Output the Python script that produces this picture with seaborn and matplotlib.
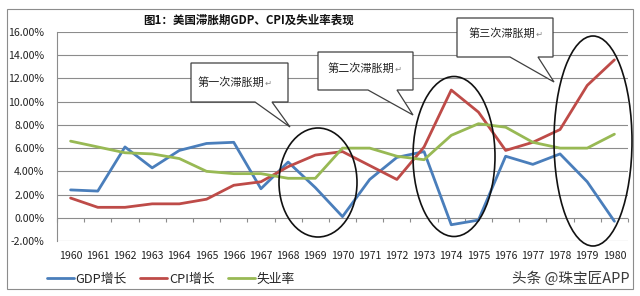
import numpy as np
import pandas as pd
import seaborn as sns
import matplotlib
matplotlib.use("Agg")
import matplotlib.pyplot as plt
from matplotlib.patches import Ellipse, Polygon, Rectangle
from matplotlib.lines import Line2D
from matplotlib.transforms import Affine2D
from matplotlib.ticker import FuncFormatter, FixedLocator

# ---------------- data ----------------
years = ["1960", "1961", "1962", "1963", "1964", "1965", "1966", "1967", "1968", "1969", "1970",
         "1971", "1972", "1973", "1974", "1975", "1976", "1977", "1978", "1979", "1980"]
gdp = [2.4, 2.3, 6.1, 4.3, 5.8, 6.4, 6.5, 2.5, 4.8, 2.6, 0.1,
       3.3, 5.2, 5.7, -0.6, -0.2, 5.3, 4.6, 5.5, 3.1, -0.3]
cpi = [1.7, 0.9, 0.9, 1.2, 1.2, 1.6, 2.8, 3.1, 4.4, 5.4, 5.7,
       4.5, 3.3, 6.1, 11.0, 9.1, 5.8, 6.5, 7.6, 11.4, 13.6]
unemp = [6.6, 6.1, 5.6, 5.5, 5.1, 4.0, 3.8, 3.8, 3.4, 3.4, 6.0,
         6.0, 5.3, 5.0, 7.1, 8.1, 7.8, 6.5, 6.0, 6.0, 7.2]
series_names = ["GDP增长", "CPI增长", "失业率"]
colors = ["#4A7EBB", "#BE4B48", "#98B954"]
yticks = [-2, 0, 2, 4, 6, 8, 10, 12, 14, 16]
title = "图1：美国滞胀期GDP、CPI及失业率表现"
callout_texts = ["第一次滞胀期", "第二次滞胀期", "第三次滞胀期"]
para_mark = "↵"
watermark = "头条 @珠宝匠APP"

df = pd.DataFrame({
    "idx": list(range(len(years))) * 3,
    "value": gdp + cpi + unemp,
    "series": [series_names[0]] * len(years) + [series_names[1]] * len(years) + [series_names[2]] * len(years),
})

# ---------------- style ----------------
sns.set_theme(style="white")
plt.rcParams["font.family"] = ["Noto Sans CJK SC", "DejaVu Sans"]
plt.rcParams["axes.unicode_minus"] = False

fig = plt.figure(figsize=(6.4, 2.96), dpi=100)
fig.patch.set_facecolor("white")
W, H = 640, 296
px = Affine2D().scale(1 / W, -1 / H).translate(0, 1) + fig.transFigure

ax = fig.add_axes([57 / W, 55 / H, 571 / W, 209 / H])
ax.set_facecolor("white")

sns.lineplot(data=df, x="idx", y="value", hue="series", hue_order=series_names,
             palette=colors, linewidth=2.0, sort=False, errorbar=None,
             legend=False, ax=ax, zorder=3)

ax.set_xlim(-0.5, len(years) - 0.5)
ax.set_ylim(-2, 16)
ax.set_xlabel("")
ax.set_ylabel("")

ax.xaxis.set_major_locator(FixedLocator(list(range(len(years)))))
ax.set_xticklabels(years)
ax.yaxis.set_major_locator(FixedLocator(yticks))
ax.yaxis.set_major_formatter(FuncFormatter(lambda v, p: f"{v:.2f}%"))

grid_col = "#8C8C8C"
ax.yaxis.grid(True, color=grid_col, linewidth=0.8)
ax.xaxis.grid(False)
for s in ["top", "right", "bottom"]:
    ax.spines[s].set_visible(False)
ax.spines["left"].set_color(grid_col)
ax.spines["left"].set_linewidth(0.8)

ax.tick_params(axis="x", length=0, pad=7, labelsize=7.6, colors="#222222")
ax.tick_params(axis="y", length=3, width=0.8, color=grid_col, pad=6,
               labelsize=7.6, labelcolor="#222222", direction="out")

# category tick marks on horizontal axis (crossing at 0)
ax.vlines(np.arange(len(years) + 1) - 0.5, -0.35, 0, color=grid_col, linewidth=0.8,
          zorder=2, clip_on=False)

# ---------------- decorations ----------------
fig.add_artist(Rectangle((7, 9), 626, 280, transform=px, fill=False,
                         edgecolor="#8C8C8C", linewidth=0.8, zorder=0))

fig.text(249, 20, title, transform=px, ha="center", va="center",
         fontsize=8.3, fontweight="bold", color="#111111")

# callouts: box (x0, y0, x1, y1), tail base (xa, xb), tip (tx, ty), text pos
callouts = [
    ((191, 63, 288, 102), (255, 272), (290, 127), (235, 82)),
    ((318, 52, 413, 90), (368, 397), (413, 115), (365, 68)),
    ((457, 18, 553, 57), (510, 538), (554, 82), (506, 33)),
]
for (box, base, tip, tpos), txt in zip(callouts, callout_texts):
    x0, y0, x1, y1 = box
    verts = [(x0, y0), (x1, y0), (x1, y1), (base[1], y1), tip, (base[0], y1), (x0, y1)]
    fig.add_artist(Polygon(verts, closed=True, transform=px, facecolor="white",
                           edgecolor="#404040", linewidth=0.9, zorder=5))
    t = fig.text(tpos[0] - 4, tpos[1], txt, transform=px, ha="center", va="center",
                 fontsize=8, color="#222222", zorder=6)
    fig.text(tpos[0] - 4 + 34, tpos[1] + 1, para_mark, transform=px, ha="left",
             va="center", fontsize=6, color="#888888", zorder=6,
             family=["DejaVu Sans"])

for (cx, cy, w, h) in [(318, 182.5, 78, 109), (454, 156.5, 82, 160), (593, 141, 78, 210)]:
    fig.add_artist(Ellipse((cx, cy), w, h, transform=px, fill=False,
                           edgecolor="#111111", linewidth=1.2, zorder=6))

handles = [Line2D([0], [0], color=c, linewidth=2.0) for c in colors]
fig.legend(handles, series_names, loc="center left",
           bbox_to_anchor=(47 / W, (H - 279) / H), ncol=3, frameon=False,
           fontsize=9.2, handlelength=2.1, handletextpad=0.15,
           columnspacing=1.05, borderpad=0, borderaxespad=0)

fig.text(630, 279, watermark, transform=px, ha="right", va="center",
         fontsize=10.5, color="#3A3A3A")

fig.savefig("out.png", dpi=100, facecolor="white")
